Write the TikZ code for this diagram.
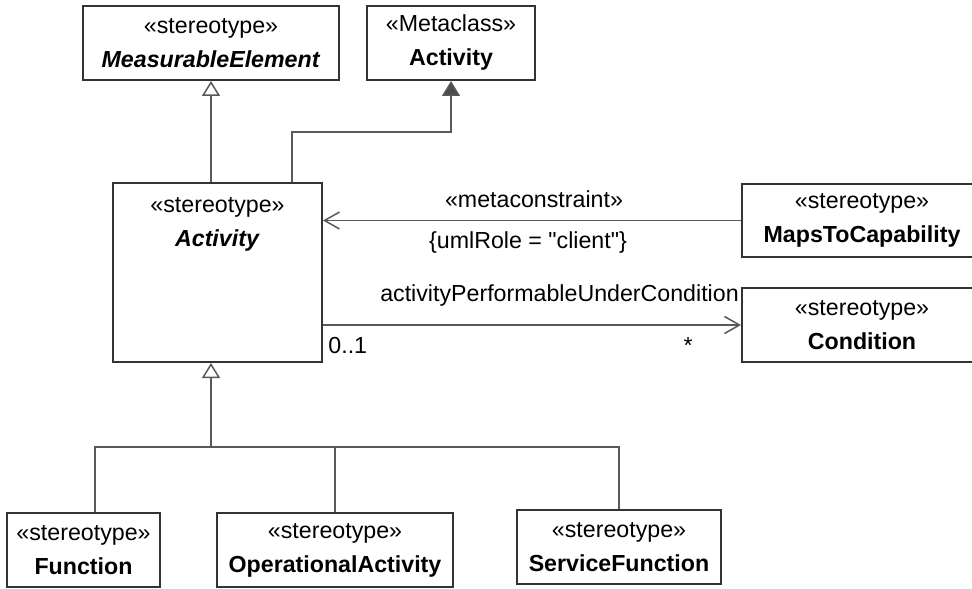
\documentclass[tikz,border=0pt]{standalone}
\usepackage{fontspec}
\setmainfont[Ligatures=TeXOff]{Liberation Sans}
\usetikzlibrary{arrows.meta}
\tikzstyle{box}=[rectangle, draw=black!80, line width=1pt, inner sep=0pt, align=center, anchor=center, font=\fontsize{11.6}{17}\selectfont]
\tikzstyle{annot}=[align=center, inner sep=0pt, anchor=base, font=\fontsize{11.6}{17}\selectfont]
\tikzstyle{link}=[draw=black!65, line width=0.75pt]
\tikzstyle{gen}=[link, -{Triangle[open, length=7.5pt, width=9pt]}]
\tikzstyle{ext}=[link, -{Triangle[length=7.5pt, width=9pt, fill=black!70]}]
\tikzstyle{dep}=[link, -{Straight Barb[length=7.5pt, width=8.5pt]}]
\newcommand{\stereo}[2]{«#1»\\#2}

\begin{document}
\begin{tikzpicture}[x=0.5pt, y=-0.5pt]
	\useasboundingbox (0,0) rectangle (972,588);

	\node[box, minimum width=128pt, minimum height=37pt](measurable) at (211,43){\stereo{stereotype}{\textbf{\textit{MeasurableElement}}}};
	\node[box, minimum width=84pt, minimum height=37pt](metaclass) at (451,43){\stereo{Metaclass}{\textbf{Activity}}};
	\node[box, minimum width=104.5pt, minimum height=89.5pt](activity) at (217.5,272.5){};
	\node[annot, anchor=center](activitytext) at (217.5,224){\stereo{stereotype}{\textbf{\textit{Activity}}}};
	\node[box, minimum width=120pt, minimum height=36.5pt](maps) at (862,220.5){\stereo{stereotype}{\textbf{MapsToCapability}}};
	\node[box, minimum width=120pt, minimum height=37pt](condition) at (862,325){\stereo{stereotype}{\textbf{Condition}}};
	\node[box, minimum width=76.5pt, minimum height=37pt](function) at (83.5,550){\stereo{stereotype}{\textbf{Function}}};
	\node[box, minimum width=118pt, minimum height=37pt](opactivity) at (335,550){\stereo{stereotype}{\textbf{OperationalActivity}}};
	\node[box, minimum width=102pt, minimum height=37pt](servicefn) at (619,547){\stereo{stereotype}{\textbf{ServiceFunction}}};

	\draw[gen] (measurable.south |- activity.north) -- (measurable.south);
	\draw[ext] ([xshift=37.25pt]activity.north) -- ++(0,-50) -| (metaclass.south);

	\draw[dep] (maps.west) -- (maps.west -| activity.east);
	\draw[dep] (activity.east |- condition.west) -- (condition.west);
	\node[annot](metalabel) at (534,207){«metaconstraint»};
	\node[annot](rolelabel) at (528,248){\{umlRole = "client"\}};
	\node[annot](assoclabel) at (559.5,301){activityPerformableUnderCondition};
	\node[annot, anchor=base west](srcmult) at (328,353){0..1};
	\node[annot](dstmult) at (688,353){*};

	\coordinate (fork) at (211,447);
	\draw[link] ([xshift=5.75pt]function.north) |- (fork) -| (servicefn.north);
	\draw[link] (opactivity.north) -- (opactivity.north |- fork);
	\draw[gen] (fork) -- (fork |- activity.south);

\end{tikzpicture}
\end{document}
